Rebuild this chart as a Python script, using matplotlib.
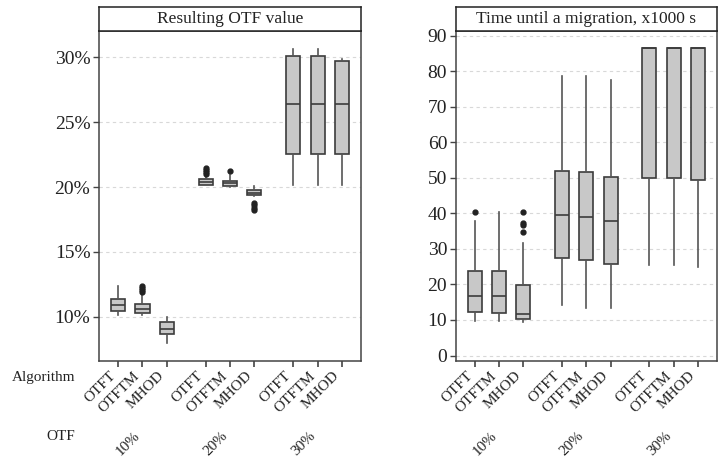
import matplotlib
matplotlib.use("Agg")

import matplotlib.pyplot as plt
import matplotlib.transforms as mtransforms

# ── data ─────────────────────────────────────────────────────────────────────
ALGOS = ["OTFT", "OTFTM", "MHOD"]
OTF_LEVELS = ["10%", "20%", "30%"]
POS = [1, 2, 3, 4.6, 5.6, 6.6, 8.2, 9.2, 10.2]

# resulting OTF value, %
otf_q1     = [10.46, 10.26, 8.65, 20.18, 20.05, 19.40, 22.56, 22.56, 22.56]
otf_med    = [10.90, 10.57, 9.10, 20.38, 20.30, 19.58, 26.38, 26.38, 26.38]
otf_q3     = [11.34, 10.98, 9.62, 20.60, 20.49, 19.79, 30.10, 30.10, 29.70]
otf_whislo = [10.18, 10.13, 7.95, 20.15, 20.00, 19.30, 20.18, 20.18, 20.18]
otf_whishi = [12.38, 11.80, 9.95, 20.75, 20.90, 20.10, 30.64, 30.64, 29.85]
otf_fliers = [[], [11.95, 12.1, 12.25, 12.4], [],
              [21.0, 21.15, 21.3, 21.45], [21.2], [18.25, 18.4, 18.6, 18.8],
              [], [], []]

# time until a migration, x1000 s
tm_q1     = [12.3, 11.9, 10.3, 27.3, 26.9, 25.8, 49.9, 49.9, 49.4]
tm_med    = [16.7, 16.7, 11.6, 39.4, 39.0, 37.9, 86.4, 86.4, 86.4]
tm_q3     = [23.8, 23.8, 19.7, 51.9, 51.6, 50.2, 86.4, 86.4, 86.4]
tm_whislo = [9.8, 9.8, 9.5, 14.2, 13.5, 13.3, 25.5, 25.5, 25.0]
tm_whishi = [37.7, 40.3, 31.6, 78.7, 78.7, 77.5, 86.4, 86.4, 86.4]
tm_fliers = [[40.5], [], [34.8, 36.6, 37.2, 40.3], [], [], [], [], [], []]

# ── style ────────────────────────────────────────────────────────────────────
plt.rcParams.update({
    "font.family": "Liberation Serif",
    "text.color": "#222222",
    "axes.edgecolor": "#444444",
    "xtick.color": "#444444",
    "ytick.color": "#444444",
    "xtick.labelcolor": "#222222",
    "ytick.labelcolor": "#222222",
})

W, H = 721, 458
FILL = "#c8c8c8"
EDGE = "#3c3c3c"


def px_box(x0, y0, x1, y1):
    """pixel box (top-left origin) -> figure fraction rect"""
    return [x0 / W, 1 - y1 / H, (x1 - x0) / W, (y1 - y0) / H]


def make_stats(q1, med, q3, lo, hi, fl):
    return [dict(q1=a, med=b, q3=c, whislo=d, whishi=e, fliers=f)
            for a, b, c, d, e, f in zip(q1, med, q3, lo, hi, fl)]


def draw_panel(ax, strip, stats, title):
    ax.bxp(stats, positions=POS, widths=0.58, patch_artist=True,
           showcaps=False,
           boxprops=dict(facecolor=FILL, edgecolor=EDGE, linewidth=1.2),
           medianprops=dict(color=EDGE, linewidth=1.2),
           whiskerprops=dict(color="#555555", linewidth=1.2),
           flierprops=dict(marker="o", markerfacecolor="#222222",
                           markeredgecolor="#222222", markersize=3.5))
    ax.set_xlim(0.2, 10.97)
    ax.set_xticks(POS, labels=ALGOS * 3, rotation=45, ha="right",
                  fontsize=11)
    ax.tick_params(axis="x", length=4, width=1.2, pad=2)
    ax.tick_params(axis="y", length=4, width=1, labelsize=14, pad=2)
    ax.yaxis.grid(True, ls=(0, (3, 3)), color="#d8d8d8", lw=0.8)
    ax.set_axisbelow(True)
    for s in ax.spines.values():
        s.set_linewidth(1.1)

    strip.set_xticks([])
    strip.set_yticks([])
    for s in strip.spines.values():
        s.set_linewidth(1.1)
        s.set_color("#222222")
    strip.text(0.5, 0.5, title, ha="center", va="center", fontsize=12.5,
               transform=strip.transAxes)

    # OTF level labels under each group
    tr = mtransforms.blended_transform_factory(ax.transData, fig.transFigure)
    for i, lab in enumerate(OTF_LEVELS):
        ax.text(POS[3 * i + 1], 0.062, lab, transform=tr, rotation=45,
                ha="right", va="top", fontsize=11)


fig = plt.figure(figsize=(W / 100, H / 100), dpi=100)

# left panel: resulting OTF value
ax1 = fig.add_axes(px_box(98.7, 30.7, 360.7, 360.7))
st1 = fig.add_axes(px_box(98.7, 7.3, 360.7, 30.7))
draw_panel(ax1, st1,
           make_stats(otf_q1, otf_med, otf_q3, otf_whislo, otf_whishi, otf_fliers),
           "Resulting OTF value")
ax1.set_ylim(6.62, 32.05)
ax1.set_yticks([10, 15, 20, 25, 30], labels=["10%", "15%", "20%", "25%", "30%"])

# right panel: time until a migration
ax2 = fig.add_axes(px_box(455.5, 30.7, 716.5, 360.7))
st2 = fig.add_axes(px_box(455.5, 7.3, 716.5, 30.7))
draw_panel(ax2, st2,
           make_stats(tm_q1, tm_med, tm_q3, tm_whislo, tm_whishi, tm_fliers),
           "Time until a migration, x1000 s")
ax2.set_ylim(-1.46, 91.36)
ax2.set_yticks(range(0, 91, 10))

fig.text(0.104, 0.175, "Algorithm", ha="right", va="center", fontsize=11)
fig.text(0.104, 0.046, "OTF", ha="right", va="center", fontsize=11)

fig.savefig("out.png", dpi=100)
